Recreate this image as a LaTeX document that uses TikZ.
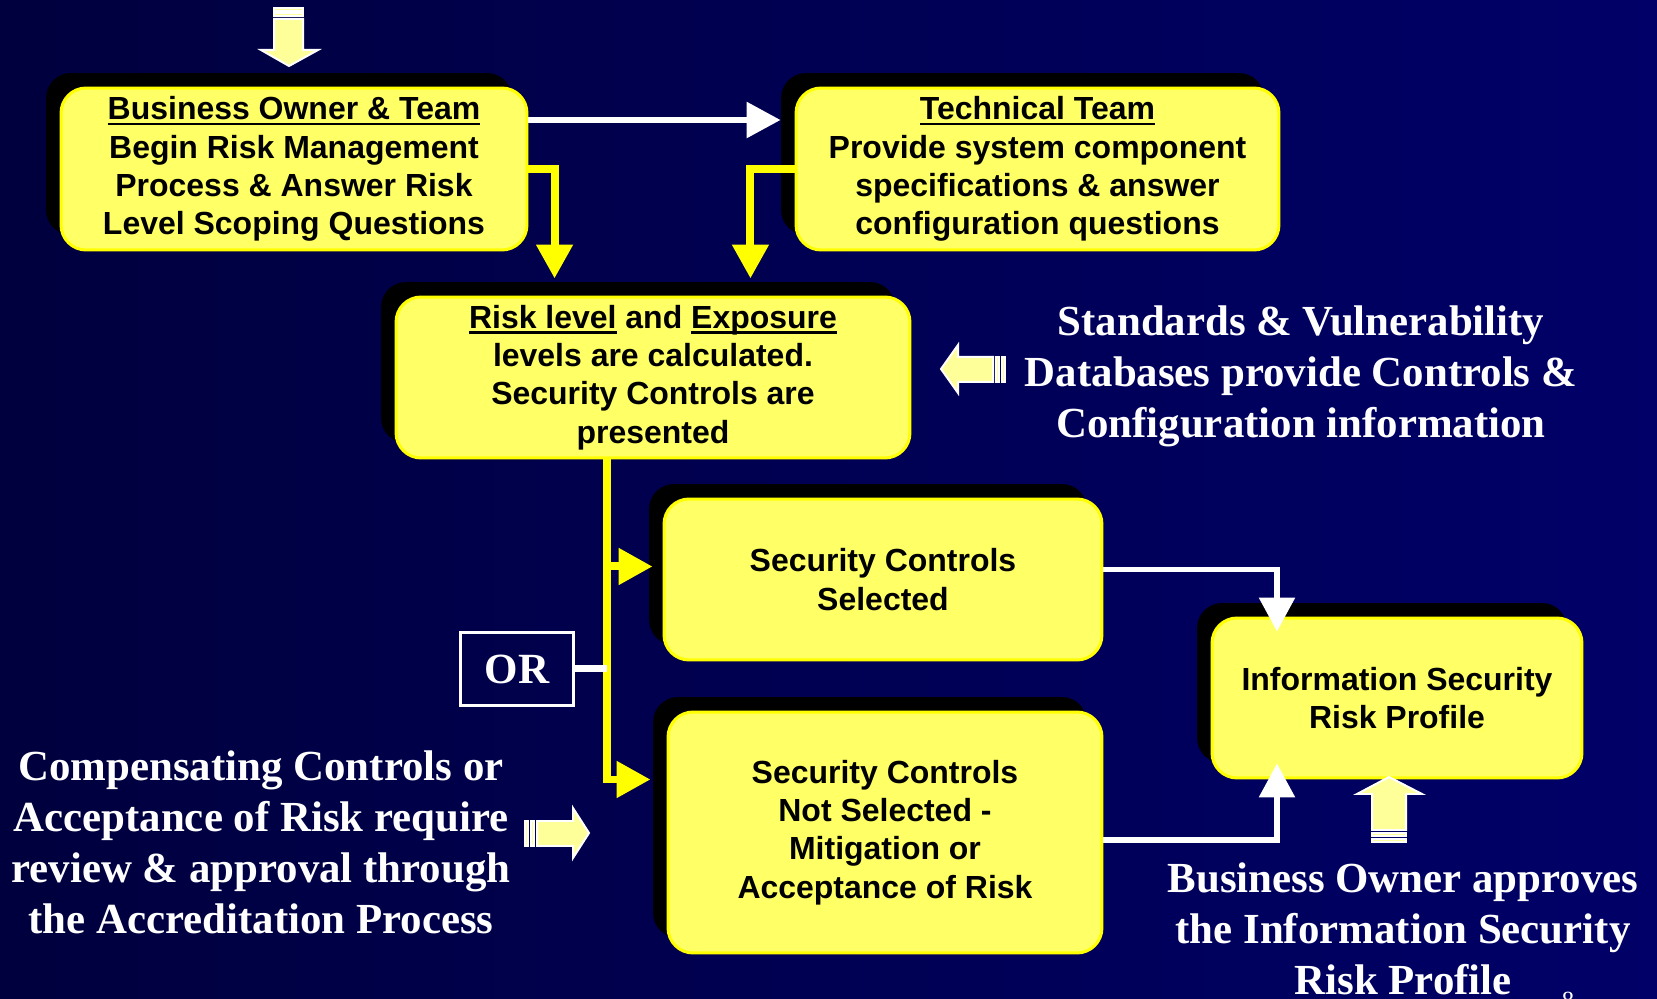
\documentclass[tikz,border=0pt]{standalone}
\usepackage{fontspec}
\setmainfont{Liberation Serif}
\newfontfamily\arialfont{Liberation Sans}
\usetikzlibrary{arrows.meta,shadows,calc}
\definecolor{navyA}{RGB}{0,0,62}
\definecolor{navyB}{RGB}{0,0,104}
\definecolor{boxyellow}{RGB}{255,255,102}
\definecolor{lineyellow}{RGB}{255,255,0}
\definecolor{paleyellow}{RGB}{255,255,153}
\newcommand{\undl}[1]{\setbox0\hbox{#1}\rlap{\rule[-3.2pt]{\wd0}{1.6pt}}\box0\relax}

\begin{document}
\begin{tikzpicture}[x=0.02cm,y=-0.02cm,
  stepbox/.style={rounded corners=0.5cm, fill=boxyellow, draw=lineyellow, line width=0.06cm,
    align=center, inner sep=0pt, font=\arialfont\bfseries\fontsize{18.2}{21.8}\selectfont,
    drop shadow={shadow xshift=-0.3cm, shadow yshift=0.3cm, fill=black, opacity=1}},
  note/.style={text=white, align=center, font=\bfseries\fontsize{24.4}{29}\selectfont},
  wline/.style={draw=white, line width=0.12cm, -{Triangle[width=0.7cm,length=0.68cm]}},
  yline/.style={draw=lineyellow, line width=0.16cm, -{Triangle[width=0.7cm,length=0.68cm]}},
  fatarrow/.style={fill=paleyellow, draw=white, line width=0.04cm}]

	\useasboundingbox (0,0) rectangle (1657,999);
	\shade[left color=navyA, right color=navyB] (0,0) rectangle (1657,999);

	\node[stepbox, minimum width=9.32cm, minimum height=3.24cm] (bizowner) at (294,169)
		{\undl{Business Owner \& Team}\\Begin Risk Management\\Process \& Answer Risk\\Level Scoping Questions};
	\node[stepbox, minimum width=9.66cm, minimum height=3.24cm] (techteam) at (1037.5,169)
		{\undl{Technical Team}\\Provide system component\\specifications \& answer\\configuration questions};
	\node[stepbox, minimum width=10.28cm, minimum height=3.22cm] (risklevel) at (653,377.5)
		{\undl{Risk level} and \undl{Exposure}\\levels are calculated.\\Security Controls are\\presented};
	\node[stepbox, minimum width=8.76cm, minimum height=3.22cm] (selected) at (883,579.5)
		{Security Controls\\Selected};
	\node[stepbox, minimum width=8.68cm, minimum height=4.82cm] (notselected) at (885,832.5)
		{Security Controls\\Not Selected -\\Mitigation or\\Acceptance of Risk};
	\node[stepbox, minimum width=7.4cm, minimum height=3.2cm] (profile) at (1397,698)
		{Information Security\\Risk Profile};

	\node[draw=white, line width=0.05cm, text=white, font=\bfseries\fontsize{24.5}{24.5}\selectfont,
		minimum width=2.26cm, minimum height=1.46cm] (ornode) at (517,669) {OR};

	\node[note] (stdtxt) at (1301,376) {Standards \& Vulnerability\\Databases provide Controls \&\\Configuration information};
	\node[note] (comptxt) at (261,842) {Compensating Controls or\\Acceptance of Risk require\\review \& approval through\\the Accreditation Process};
	\node[note] (approvetxt) at (1403,929) {Business Owner approves\\the Information Security\\Risk Profile};
	\node[text=white, font=\fontsize{14}{14}\selectfont, anchor=north] (pgnum) at (1568,986) {8};

	\coordinate (trk) at ([xshift=-0.92cm]risklevel.south);
	\coordinate (in3a) at ([shift={(160,-17)}]risklevel.north west);
	\coordinate (in3b) at ([shift={(-161,-17)}]risklevel.north east);
	\coordinate (in4) at ([shift={(-10,-13)}]selected.west);
	\coordinate (in5) at ([shift={(-16,-53)}]notselected.west);
	\coordinate (in6a) at ([shift={(-120,15)}]profile.north);
	\coordinate (in6b) at ([shift={(-120,-16)}]profile.south);

	\draw[wline, shorten >=0.28cm] ([yshift=0.98cm]bizowner.east) -- ([yshift=0.98cm]techteam.west);
	\draw[yline] (bizowner.east) -| (in3a);
	\draw[yline] (techteam.west) -| (in3b);
	\draw[yline] (trk) |- (in5);
	\draw[yline] (trk |- in4) -- (in4);
	\draw[white, line width=0.14cm] (ornode.east) -- (ornode.east -| trk);
	\draw[wline] ([yshift=0.2cm]selected.east) -| (in6a);
	\draw[wline] ([yshift=-0.16cm]notselected.east) -| (in6b);

	\draw[fatarrow] (274,19) -- (303,19) -- (303,50) -- (318,50) -- (289,66) -- (261,50) -- (274,50) -- cycle;
	\draw[fatarrow] (274,8) rectangle (303,11);
	\draw[fatarrow] (274,13) rectangle (303,16);

	\draw[fatarrow] (993,357) -- (958,357) -- (958,345) -- (941,369) -- (958,393) -- (958,382) -- (993,382) -- cycle;
	\draw[fatarrow] (996,357) rectangle (999,382);
	\draw[fatarrow] (1002,357) rectangle (1005,382);

	\draw[fatarrow] (537,821) -- (573,821) -- (573,808) -- (589,833) -- (573,858) -- (573,846) -- (537,846) -- cycle;
	\draw[fatarrow] (525,821) rectangle (528,846);
	\draw[fatarrow] (531,821) rectangle (534,846);

	\draw[fatarrow] (1372,830) -- (1372,794) -- (1357,794) -- (1389,777) -- (1422,794) -- (1406,794) -- (1406,830) -- cycle;
	\draw[fatarrow] (1372,833) rectangle (1406,836);
	\draw[fatarrow] (1372,839) rectangle (1406,842);

\end{tikzpicture}
\end{document}
